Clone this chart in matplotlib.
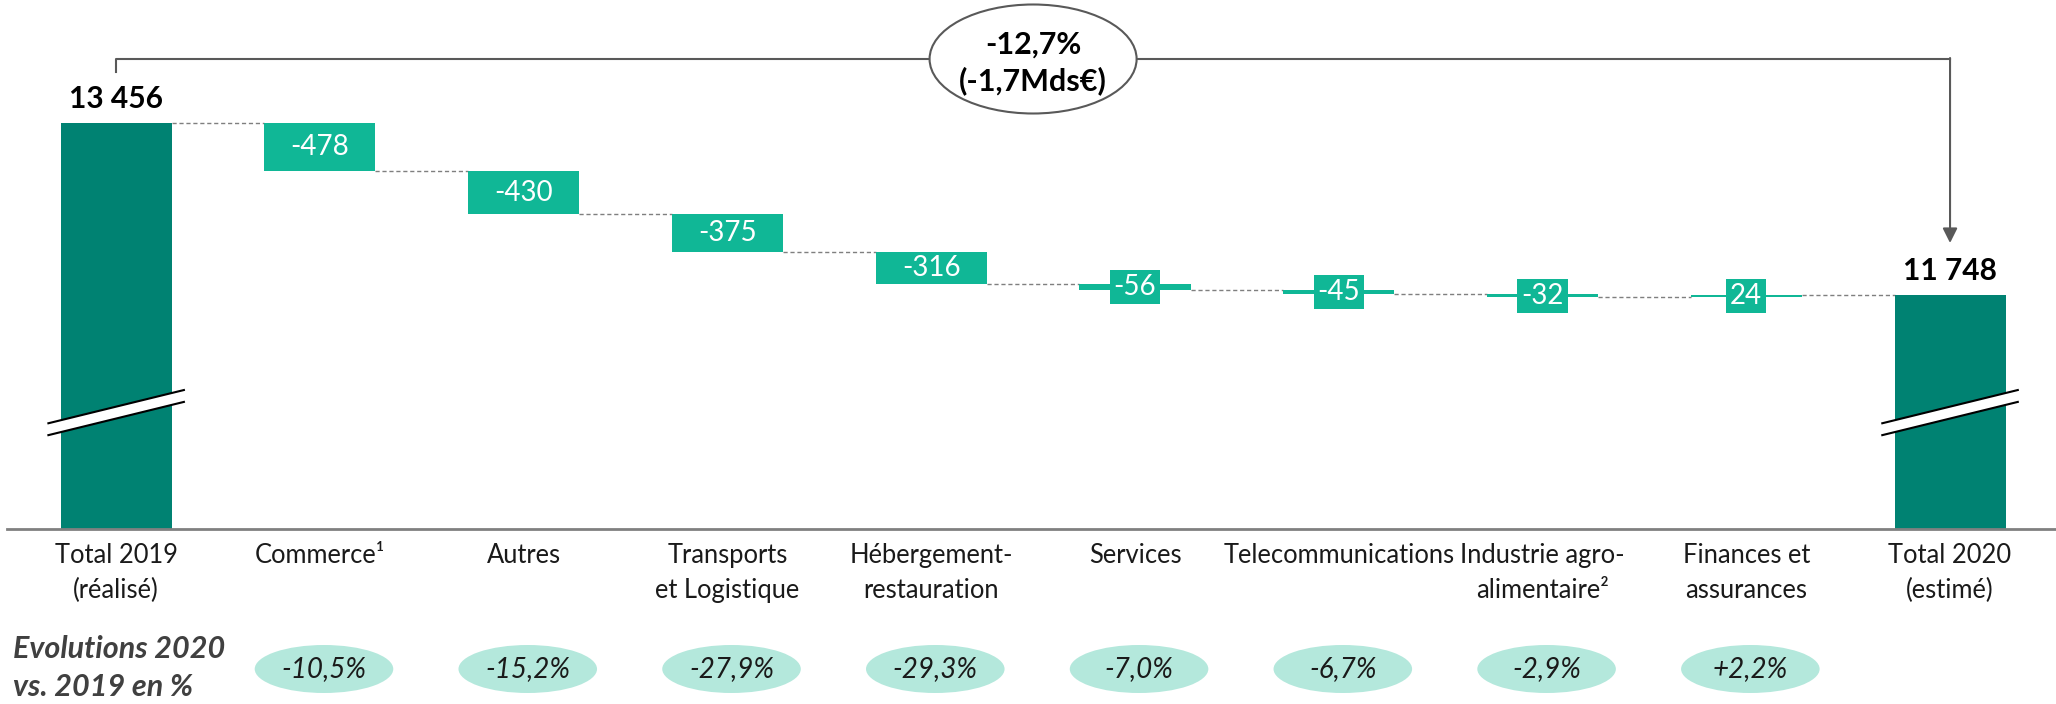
"""Waterfall: change 2019 -> 2020 by sector, with evolution % row."""
import matplotlib

matplotlib.use("Agg")
import matplotlib.pyplot as plt
from matplotlib import transforms
from matplotlib.patches import Ellipse, Polygon

plt.rcParams.update({
    "font.family": ["Lato", "DejaVu Sans"],
    "figure.dpi": 100,
})

CATEGORIES = [
    "Total 2019\n(réalisé)", "Commerce¹", "Autres", "Transports\net Logistique",
    "Hébergement-\nrestauration", "Services", "Telecommunications",
    "Industrie agro-\nalimentaire²", "Finances et\nassurances", "Total 2020\n(estimé)",
]
TOTAL_2019 = 13456
DELTAS = [-478, -430, -375, -316, -56, -45, -32, 24]
TOTAL_2020 = 11748
EVOLUTIONS = ["-10,5%", "-15,2%", "-27,9%", "-29,3%", "-7,0%", "-6,7%", "-2,9%", "+2,2%"]
SUMMARY = "-12,7%\n(-1,7Mds€)"

DARK = "#008272"
TEAL = "#10b796"
PALE = "#b4e8dc"
GREY = "#7f7f7f"
LINE = "#595959"

W, H = 2056, 704
BAR_W = 0.545
Y_MIN, Y_MAX = 9424, 14677
BREAK_Y, BREAK_RISE, BREAK_GAP = 10580, 330, 118


def fy(px):
    """figure fraction from a pixel row counted from the top"""
    return 1 - px / H


def fmt(v):
    return f"{v:,}".replace(",", " ")


fig = plt.figure(figsize=(W / 100, H / 100))
ax = fig.add_axes([0, fy(529), 1, 529 / H])
ax.set_xlim(-0.57, 9.52)
ax.set_ylim(Y_MIN, Y_MAX)
ax.axis("off")
tb = transforms.blended_transform_factory(ax.transData, fig.transFigure)
n = len(CATEGORIES)

# totals
ax.bar([0, n - 1], [TOTAL_2019 - Y_MIN, TOTAL_2020 - Y_MIN], bottom=Y_MIN,
       width=BAR_W, color=DARK, zorder=2)
for i, v in ((0, TOTAL_2019), (n - 1, TOTAL_2020)):
    ax.annotate(fmt(v), (i, v), xytext=(0, 17), textcoords="offset points",
                ha="center", va="center", fontsize=21.5, fontweight="bold", color="black")
    h = BAR_W / 2 + 0.06
    ax.add_patch(Polygon([(i - h, BREAK_Y - BREAK_RISE / 2 - BREAK_GAP / 2),
                          (i + h, BREAK_Y + BREAK_RISE / 2 - BREAK_GAP / 2),
                          (i + h, BREAK_Y + BREAK_RISE / 2 + BREAK_GAP / 2),
                          (i - h, BREAK_Y - BREAK_RISE / 2 + BREAK_GAP / 2)],
                         closed=True, fc="white", ec="none", zorder=3, clip_on=False))
    for s in (-1, 1):
        ax.plot([i - h, i + h],
                [BREAK_Y - BREAK_RISE / 2 + s * BREAK_GAP / 2,
                 BREAK_Y + BREAK_RISE / 2 + s * BREAK_GAP / 2],
                color="black", lw=1.5, zorder=4, clip_on=False)

# floating bars
levels = [TOTAL_2019]
level = TOTAL_2019
for i, d in enumerate(DELTAS, start=1):
    ax.bar(i, d, bottom=level, width=BAR_W, color=TEAL, zorder=2)
    mid = level + d / 2
    if abs(d) >= 100:
        ax.text(i, mid, f"{d}", ha="center", va="center", fontsize=20,
                color="white", zorder=5)
    else:
        ax.text(i, mid, f"{d}", ha="center", va="center", fontsize=20,
                color="white", zorder=5,
                bbox=dict(boxstyle="square,pad=0.14", fc=TEAL, ec="none"))
    level += d
    levels.append(level)
levels.append(TOTAL_2020)

# dashed connectors
for i in range(n - 1):
    ax.plot([i + BAR_W / 2, i + 1 - BAR_W / 2], [levels[i], levels[i]],
            ls=(0, (3, 2)), color=GREY, lw=1, zorder=1)

# baseline
ax.plot([-0.535, 9.52], [Y_MIN, Y_MIN], color="#808080", lw=2, clip_on=False, zorder=4)

# overall change bracket
ax.plot([0, 0, n - 1], [fy(72), fy(59), fy(59)], transform=tb, color=LINE, lw=1.5,
        clip_on=False)
ax.annotate("", xy=(n - 1, fy(243)), xycoords=tb, xytext=(n - 1, fy(58)), textcoords=tb,
            arrowprops=dict(arrowstyle="-|>", color=LINE, lw=1.5, mutation_scale=22,
                            shrinkA=0, shrinkB=0))
ax.add_patch(Ellipse(((n - 1) / 2, fy(59)), 1.016, 109 / H, transform=tb, fc="white",
                     ec=LINE, lw=1.5, zorder=6, clip_on=False))
ax.text((n - 1) / 2, fy(63), SUMMARY, transform=tb, ha="center", va="center",
        fontsize=22, fontweight="bold", linespacing=1.3, zorder=7)

# category labels
for i, lab in enumerate(CATEGORIES):
    ax.text(i, fy(543), lab, transform=tb, ha="center", va="top", fontsize=18.4,
            linespacing=1.5, color="#1a1a1a")

# evolution row
fig.text(13 / W, fy(668), "Evolutions 2020\nvs. 2019 en %", ha="left", va="center",
         fontsize=22, style="italic", fontweight="bold", color="#404040", linespacing=1.45)
for i, ev in enumerate(EVOLUTIONS, start=1):
    ax.add_patch(Ellipse((i + 0.02, fy(669)), 0.68, 48 / H, transform=tb, fc=PALE,
                         ec="none", clip_on=False))
    ax.text(i + 0.02, fy(669), ev, transform=tb, ha="center", va="center", fontsize=20,
            style="italic", color="#1a1a1a")

fig.savefig("out.png", dpi=100)
